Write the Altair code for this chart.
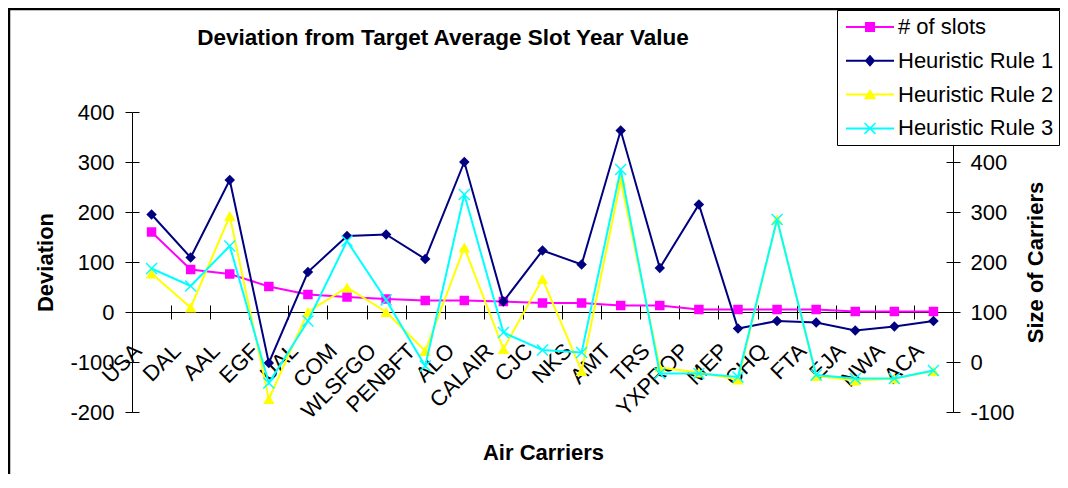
import altair as alt
import pandas as pd

FONT = "Arial, Liberation Sans, sans-serif"

carriers = ["USA", "DAL", "AAL", "EGF", "UAL", "COM", "WLSFGO", "PENBFT", "ALO", "CALAIR",
            "CJC", "NKS", "AMT", "TRS", "YXPROP", "MEP", "CHQ", "FTA", "EJA", "NWA", "ACA"]
slots = [260, 185, 176, 151, 135, 130, 126, 123, 123, 121, 118, 118, 113, 113, 105, 105, 105, 105, 101, 101, 101]
rule1 = [195, 109, 264, -102, 80, 152, 155, 106, 300, 21, 123, 95, 363, 88, 215, -33, -18, -21, -37, -29, -18]
rule2 = [77, 9, 192, -174, 0, 49, 0, -78, 129, -74, 66, -118, 263, -111, -121, -135, 185, -128, -137, -133, -118]
rule3 = [87, 52, 132, -142, -18, 142, 24, -108, 235, -41, -76, -81, 285, -123, -123, -130, 185, -126, -133, -133, -117]

series_names = ["# of slots", "Heuristic Rule 1", "Heuristic Rule 2", "Heuristic Rule 3"]
series_colors = ["#FF00FF", "#000080", "#FFFF00", "#00FFFF"]
left_ticks = [-200, -100, 0, 100, 200, 300, 400]
right_ticks = [-100, 0, 100, 200, 300, 400]

rows = []
for name, vals in zip(series_names, [slots, rule1, rule2, rule3]):
    for i, (c, v) in enumerate(zip(carriers, vals)):
        rows.append({"carrier": c, "idx": i, "series": name, "value": v})
df = pd.DataFrame(rows)

# legend symbols (unit = 12 px): line segment + marker
LINE = "M-2,-0.083H2V0.083H-2Z "
legend_paths = [
    LINE + "M-0.42,-0.42H0.42V0.42H-0.42Z",
    LINE + "M0,-0.5L0.44,0L0,0.5L-0.44,0Z",
    LINE + "M0,-0.46L0.52,0.38L-0.52,0.38Z",
    LINE + "M-0.41,-0.5L0.5,0.41L0.41,0.5L-0.5,-0.41Z "
           "M-0.5,0.41L0.41,-0.5L0.5,-0.41L-0.41,0.5Z",
]
CROSS = "M-1,-1L1,1M-1,1L1,-1"

color = alt.Color("series:N", scale=alt.Scale(domain=series_names, range=series_colors), legend=None)
order = alt.Order("idx:Q")


def xenc(axis):
    return alt.X("carrier:N", scale=alt.Scale(type="point", domain=carriers, padding=0.5), axis=axis)


def yleft(axis):
    return alt.Y("value:Q", scale=alt.Scale(domain=[-200, 400], nice=False, zero=False), axis=axis)


def yright(axis):
    return alt.Y("value:Q", scale=alt.Scale(domain=[-100, 500], nice=False, zero=False), axis=axis)


common = dict(grid=False, domainColor="black", tickColor="black", labelColor="black",
              labelFont=FONT, labelFontSize=22, titleFont=FONT, titleFontSize=22,
              titleFontWeight="bold", titleColor="black")
helper = dict(grid=False, domain=False, labels=False, title=None, tickColor="black", tickWidth=1)

x_main = alt.Axis(orient="bottom", offset=-100, ticks=False, tickSize=0, labelAngle=-45,
                  labelAlign="right", labelBaseline="middle", labelPadding=35, labelOffset=-14,
                  labelOverlap=False, labelBound=False, labelFlush=False,
                  title="Air Carriers", titleX=411, titleY=140, titleBaseline="middle",
                  titleAlign="center", **common)
x_tickA = alt.Axis(orient="bottom", offset=-100, tickSize=7, tickOffset=-19.55, **helper)
x_tickB = alt.Axis(orient="bottom", offset=-107, tickSize=7, tickOffset=-19.55, **helper)

yl_main = alt.Axis(orient="left", values=left_ticks, tickSize=7, labelPadding=11,
                   labelExpr="'' + datum.value",
                   title="Deviation", titleX=-87, titleY=150, titleAngle=270,
                   titleBaseline="middle", titleAlign="center", **common)
yl_help = alt.Axis(orient="left", values=left_ticks, offset=-7, tickSize=7, **helper)
yr_main = alt.Axis(orient="right", values=right_ticks, tickSize=7, labelPadding=10,
                   labelExpr="'' + datum.value",
                   title="Size of Carriers", titleX=82, titleY=150, titleAngle=270,
                   titleBaseline="middle", titleAlign="center", **common)
yr_help = alt.Axis(orient="right", values=right_ticks, offset=-7, tickSize=7, **helper)


def base(name):
    return alt.Chart(df).transform_filter(alt.datum.series == name)


u_slots_line = base(series_names[0]).mark_line(strokeWidth=2).encode(
    x=xenc(x_main), y=yright(yr_main), color=color, order=order)
u_slots_pts = base(series_names[0]).mark_point(shape="square", filled=True, size=90, opacity=1).encode(
    x=xenc(x_tickA), y=yright(yr_help), color=color)
u_r1_line = base(series_names[1]).mark_line(strokeWidth=2).encode(
    x=xenc(x_tickB), y=yleft(yl_main), color=color, order=order)
u_r1_pts = base(series_names[1]).mark_point(shape="diamond", filled=True, size=110, opacity=1).encode(
    x=xenc(None), y=yleft(yl_help), color=color)
u_r2_line = base(series_names[2]).mark_line(strokeWidth=2).encode(
    x=xenc(None), y=yleft(None), color=color, order=order)
u_r2_pts = base(series_names[2]).mark_point(shape="triangle-up", filled=True, size=130, opacity=1).encode(
    x=xenc(None), y=yleft(None), color=color)
u_r3_line = base(series_names[3]).mark_line(strokeWidth=2).encode(
    x=xenc(None), y=yleft(None), color=color, order=order)
u_r3_pts = base(series_names[3]).mark_point(shape=CROSS, filled=False, size=120, strokeWidth=1.5,
                                             opacity=1).encode(
    x=xenc(None), y=yleft(None), color=color)

legend_kw = dict(orient="none", legendX=705, legendY=-102, direction="vertical", title=None,
                 labelFont=FONT, labelFontSize=22, labelColor="black", labelLimit=400, labelOffset=16,
                 symbolSize=576, symbolOffset=16, symbolStrokeWidth=0, symbolOpacity=1,
                 rowPadding=10.8, padding=5, strokeColor="black", fillColor="white")
u_legend = alt.Chart(df).mark_point(filled=True, opacity=0).encode(
    x=xenc(None), y=yleft(None),
    fill=alt.Fill("series:N", scale=alt.Scale(domain=series_names, range=series_colors),
                  legend=alt.Legend(**legend_kw)),
    shape=alt.Shape("series:N", scale=alt.Scale(domain=series_names, range=legend_paths),
                    legend=alt.Legend(**legend_kw)),
)

frame_df = pd.DataFrame({"k": [0]})
frame_top = alt.Chart(frame_df).mark_rule(color="black", strokeWidth=2.5).encode(
    x=alt.value(-124), x2=alt.value(930), y=alt.value(-103))
frame_left = alt.Chart(frame_df).mark_rule(color="black", strokeWidth=2.5).encode(
    x=alt.value(-123), y=alt.value(-104), y2=alt.value(370))

chart = alt.layer(
    u_legend, u_slots_line, u_slots_pts, u_r1_line, u_r1_pts, u_r2_line, u_r2_pts, u_r3_line, u_r3_pts,
    frame_top, frame_left,
).resolve_scale(y="independent").resolve_axis(x="independent", y="independent").properties(
    width=821, height=300,
    padding={"left": 124, "top": 104, "right": 107, "bottom": 62},
    autosize=alt.AutoSizeParams(type="none"),
    background="white",
    title=alt.TitleParams(text="Deviation from Target Average Slot Year Value", font=FONT,
                          fontSize=22.5, fontWeight="bold", color="black", anchor="middle",
                          frame="group", dx=-99.5, dy=61, offset=0, baseline="alphabetic"),
).configure_view(strokeWidth=0)

chart.save("out.html", embed_options={"renderer": "svg", "actions": False})
